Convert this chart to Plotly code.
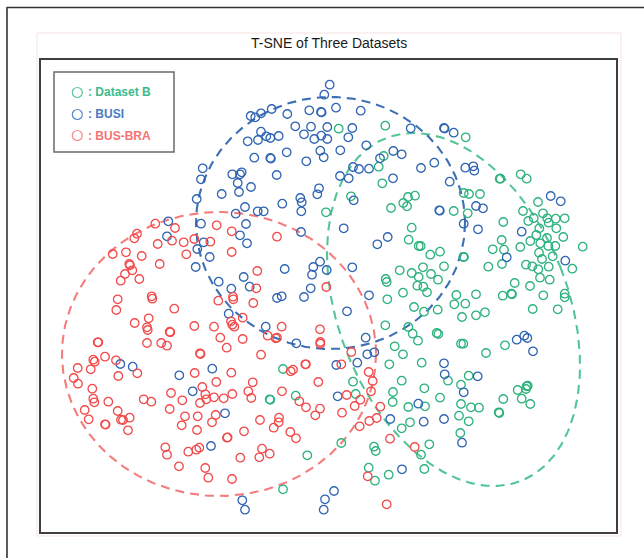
import numpy as np
import plotly.graph_objects as go

# ---------------- data (t-SNE embedding) ----------------
dataset_b_x = [338.7,385.3,383.7,378.7,382.3,351,326,415,408,403.3,407,391,411.7,408.7,418.7,399.7,411.7,418.7,385.7,386.7,417.3,403,
               465.7,499.7,500.5,520.7,526.7,463.7,469,480,453.7,467.7,538,523,528.3,533.7,543,547.3,548.7,555.7,564.7,503.3,539.3,556.3,530.3,536.3,540.3,547,563.3,548.3,555.3,501.7,492.7,504,520.3,582.7,539,542,552.7,420.7,430.3,440,463.3,464,423,444,488.3,502,526,532.3,538.3,548.7,572.3,431,438,514.7,540,549.7,530,423.3,427,
               387.3,414,385.3,408.3,412.7,418,394.7,403,389.3,283,353,355.7,401.7,393,392.7,408.3,295.7,269.7,270.3,410,401.7,341.3,374,375.7,307.3,368.7,388.7,375,283,
               456.3,476,502.7,511.3,512,543.3,564.7,564.7,424,437.7,454.3,465.3,462,476,485,532.7,557.7,436.7,438.3,461,463.3,486,505,421.7,448,468.7,461,424.3,440,425,461,471,479,459,468.7,498.7,499.3,517.7,526.7,527.7,526,521.7,503.3,530.3,460.3,429.3,421,424.3]
dataset_b_y = [128.7,125.7,156,166.7,183.3,196.3,212.3,195.7,197,203,206.3,208,227.7,239.7,246,270.3,273,277,279,282,285.7,292.7,
               137.3,178.7,178.7,174.3,178.7,193,194,194,211,213.3,202,211,221,218,213.3,218.3,222.7,218.7,218.3,222,228.3,228.3,241,235,243.3,238,237,246,246,240,249.3,249.7,247,246.7,252.7,259,256.3,246,254.7,251.7,257,257,267.3,266.3,266.7,264,264.7,266.3,269.3,266.7,268.7,274,279.7,283,277.7,279.7,286,286.7,292.3,
               299.3,307,325.3,327,333.7,340.7,346.3,354.3,364.3,369,381.7,394,380.7,392,402,407,395.7,399.3,399.8,422.3,428.3,443,446.7,451,455.3,467.7,474.7,480.7,489.3,
               295,294.3,295.7,293.7,294.3,295.3,293.7,297.3,311.7,309.7,304.3,303.7,317,315.3,312.3,309,309.3,333,334,343.7,343.7,353,345.3,362.7,380.7,375.7,384.7,388.3,397.7,406.3,404,407.3,407.7,415.7,421.3,412.3,413,390,386.3,385.7,389,398.7,399,404,433,444.3,454.7,469]

busi_x = [202.7,201,221.7,196.7,168.3,201,167,203.7,197.3,209.7,195.7,218.7,
          329.7,324.3,250.7,255.3,261,271.7,287.3,309.3,321,321.6,336,360.7,410.7,295.3,311,327.3,352.3,261,266.3,270.3,278.7,247.7,258,304,314.3,321.3,327.3,348.3,366.3,320.3,340.3,286.7,323.7,254.3,270.3,270.9,306.3,380,393.3,401.7,353,359,369,340,348.7,393,276.7,241.7,240,232.3,237.7,251,239,319,317.3,300.3,301.7,353.7,282.3,245,257.7,263.7,301.3,235.7,246,343.7,301,240,247,377.3,387.7,320,313.3,326.7,312,284.7,352.3,243.7,249.7,231.3,310.7,
          421,444,444.6,453.7,434.3,465.3,473.3,474.3,449.7,439.3,439.8,476,483,463.7,478,550.7,560.7,521.7,506.7,565.3,
          228.7,120.3,132.7,179.3,212.3,192.7,225,211,
          277,281.7,304,369,347,265.7,296.3,365.7,367.3,374.3,357.3,336.3,337.7,390.3,418.3,402,242.3,245,325,334,323.7,
          516.7,524.3,527.3,533,444,444.7,477.7,463.7,423.7,444,462]
busi_y = [168.3,179.3,194,199,221.3,223.7,236.3,242.3,249,257,267,281.7,
          84.7,94.7,116,117.3,113.3,109,114,110.3,112,112.4,107.7,110.7,128.3,126.3,126.7,127,128,131.7,136.3,138,136,141.3,140,134.3,139,135.7,139,137.3,145.3,150.7,150.3,152.3,157.3,157.7,158,158.6,161.3,158.3,151,154.3,167,169,168.7,176,178.3,178.3,175,172.3,174.3,174.3,183,187,192,188.3,194.3,198,202.3,200.3,203.7,207,211.3,211.3,211.3,213.7,224,228.3,232,235.3,243.3,244.3,237,261.7,267,270,274.7,269,267.3,277,286.7,288.7,288.3,
          168,128,128.6,132.7,162.7,167.7,166.3,170.7,181.7,210.3,210.7,206,208.3,223.7,229.3,196,201.3,231.7,257.3,260.7,
          313.7,364,366.7,375.3,368.7,391.3,413.3,446,
          298,296.3,297,295.3,311.3,326.7,343.3,337.7,354.3,352.3,362.7,365,396.3,419,403.7,469.3,500.3,509.7,499.3,491,509.7,
          339.7,335.7,338,351.3,363.3,374.3,376.3,392.3,421.7,419,442.7]

bus_bra_x = [155.3,175,216.7,137,134.3,172,183.7,194.3,210.3,157.7,112.7,126,141.7,186.3,129.3,130,159.7,132.3,125,139.3,120.7,
             231.7,277,231.7,257.3,256.3,326.3,
             218.3,117.7,116.3,151.7,152.3,174.3,148.7,134.7,147,147.7,169.7,170.3,194.3,214,220.3,97.7,98.3,147,161.3,167,226.7,200,200.5,105,93.3,94.7,90.7,77.7,116,137.3,118.3,73.7,78,194.7,216.3,92.3,202.3,205.3,206.3,171,214,223.7,93.3,94.3,108.3,143.7,151.3,182.3,200,169.7,84.7,88.7,117.7,121,123,129.7,105,105.6,128,185,197.7,181.7,197,215.7,212,227,227.6,165.3,167,188.3,196.3,199.3,179,205.3,208.3,
             233,233.3,253.3,242.7,231,232.3,234.3,281.7,267.7,275.7,277,242.7,320,320.3,320.3,261,351.3,305.3,305.9,290.7,293,341.3,368.7,372.7,318.3,231.3,252.7,248.3,251.3,232.3,282,299.3,306,320,315.3,346.7,354.7,360.3,371,380.3,342,260,273.7,279,278.7,290.3,296,244,359.7,369.3,376.7,390,262,259.3,269.7,240.3,232,414.7,367.7,386.7]
bus_bra_y = [223.7,228,225.3,233.7,238.3,240.7,242.3,239,241.7,244,254,252.3,256,254.3,264,265.3,264,270.3,274,279,280.7,
             231.3,236.7,252,271,288.3,287,
             300.7,299.3,310,296.3,298.7,308.7,318.3,323,327.3,330,331.7,332.3,326,326.7,337.7,342.3,342.3,343,343,345.7,347.7,353.3,354,356.7,359.7,361.7,369.3,368,360.3,373.3,376,378,383.7,373,382,388.7,387,394.3,399.3,393,397.3,398.3,398.7,402.3,401.7,399.3,401.7,400.3,403,409,410,419.3,411,419.7,420,417.7,424.3,424.6,430.3,416.3,416.3,425.3,430,415,422.3,437.7,437.4,447.3,454.7,451.7,449.7,447.7,466.3,468,477.7,
             296.7,299.3,303,317.7,321.3,324.7,326.7,326.7,335.7,338.3,337.7,339,329.3,342,343.7,354.7,352,364.3,364.3,371.3,369.7,364.3,372,381,382,372.7,382.3,391.3,398,394,391.3,401.3,407.3,408.7,415.3,395,406,399.7,391.3,406.7,412.7,420,427.7,417.7,422.3,432,438.3,431.3,426.3,421,418,438.7,448.7,457.3,453.7,457.7,479,447,476.3,504.3]

series_names = ["Dataset B", "BUSI", "BUS-BRA"]
legend_labels = [": Dataset B", ": BUSI", ": BUS-BRA"]

# cluster ellipses: centre x, centre y, semi-axis 1, semi-axis 2, tilt (deg)
ellipse_cx = [453.5, 330.5, 219.0]
ellipse_cy = [309.5, 223.0, 354.0]
ellipse_a = [115.0, 134.5, 157.0]
ellipse_b = [184.2, 126.0, 142.0]
ellipse_tilt = [21.5, 0.0, 0.0]

# ---------------- styling ----------------
marker_colors = ["#2cb27c", "#2f64b2", "#f24a4a"]
ellipse_colors = ["#55c597", "#3d6fb5", "#f57c7c"]
legend_text_colors = ["#3bbb8b", "#4a7bc2", "#f27474"]
legend_marker_colors = ["#5cc89c", "#5b86c6", "#f58a8a"]
FONT = "Arial, 'Liberation Sans', sans-serif"

W, H = 644, 558
L, R, T, B = 40, 27, 59, 25
X0, X1 = 40, 617
Y0, Y1 = 59, 533


def px(X):
    return (X - X0) / (X1 - X0)


def py(Y):
    return (Y1 - Y) / (Y1 - Y0)


fig = go.Figure()

# ellipses
t = np.linspace(0, 2 * np.pi, 400)
for i in range(3):
    th = np.deg2rad(ellipse_tilt[i])
    ex = ellipse_cx[i] + ellipse_a[i] * np.cos(t) * np.cos(th) + ellipse_b[i] * np.sin(t) * np.sin(th)
    ey = ellipse_cy[i] - ellipse_a[i] * np.cos(t) * np.sin(th) + ellipse_b[i] * np.sin(t) * np.cos(th)
    fig.add_trace(go.Scatter(x=ex, y=ey, mode="lines", hoverinfo="skip", showlegend=False,
                             line=dict(color=ellipse_colors[i], width=2.1, dash="9px,6px")))

# scatter points
series = [(dataset_b_x, dataset_b_y), (busi_x, busi_y), (bus_bra_x, bus_bra_y)]
for i, (sx, sy) in enumerate(series):
    fig.add_trace(go.Scatter(x=sx, y=sy, mode="markers", name=series_names[i], showlegend=False,
                             marker=dict(symbol="circle-open", size=8.5, color=marker_colors[i],
                                         line=dict(width=1.3, color=marker_colors[i]))))

shapes = [
    # faint title/plot box
    dict(type="rect", xref="paper", yref="paper", x0=px(37), x1=px(621), y0=py(536), y1=py(33),
         line=dict(color="#f7e3e3", width=1), layer="below"),
    # plot frame
    dict(type="rect", xref="paper", yref="paper", x0=0, x1=1, y0=0, y1=1,
         line=dict(color="#3f3f3f", width=2)),
    # outer image border (partial)
    dict(type="line", xref="paper", yref="paper", x0=px(7), x1=px(7), y0=py(7), y1=py(570),
         line=dict(color="#333333", width=1.6)),
    dict(type="line", xref="paper", yref="paper", x0=px(7), x1=px(660), y0=py(7.5), y1=py(7.5),
         line=dict(color="#333333", width=1.6)),
    # legend box
    dict(type="rect", xref="paper", yref="paper", x0=px(54), x1=px(174), y0=py(152), y1=py(72),
         line=dict(color="#6a6a6a", width=1.5), fillcolor="white"),
]

annotations = []
legend_rows = [92.5, 114.5, 135.5]
for i in range(3):
    yy = legend_rows[i]
    shapes.append(dict(type="circle", xref="paper", yref="paper",
                       x0=px(72.3), x1=px(82.3), y0=py(yy + 5), y1=py(yy - 5),
                       line=dict(color=legend_marker_colors[i], width=1.2)))
    annotations.append(dict(x=px(85.5), y=py(yy), xref="paper", yref="paper", xanchor="left", yanchor="middle",
                            text="<b>" + legend_labels[i] + "</b>", showarrow=False,
                            font=dict(family=FONT, size=12, color=legend_text_colors[i])))

annotations.append(dict(x=px(329), y=py(43.5), xref="paper", yref="paper", xanchor="center", yanchor="middle",
                        text="T-SNE of Three Datasets", showarrow=False,
                        font=dict(family=FONT, size=14, color="#1a1a1a")))

fig.update_layout(
    width=W, height=H,
    margin=dict(l=L, r=R, t=T, b=B),
    paper_bgcolor="white", plot_bgcolor="white",
    xaxis=dict(range=[X0, X1], visible=False, fixedrange=True),
    yaxis=dict(range=[Y1, Y0], visible=False, fixedrange=True),
    shapes=shapes, annotations=annotations, showlegend=False,
)

fig.write_html("out.html", config={"displayModeBar": False},
               post_script="document.body.style.margin='0px';document.body.style.overflow='hidden';")
